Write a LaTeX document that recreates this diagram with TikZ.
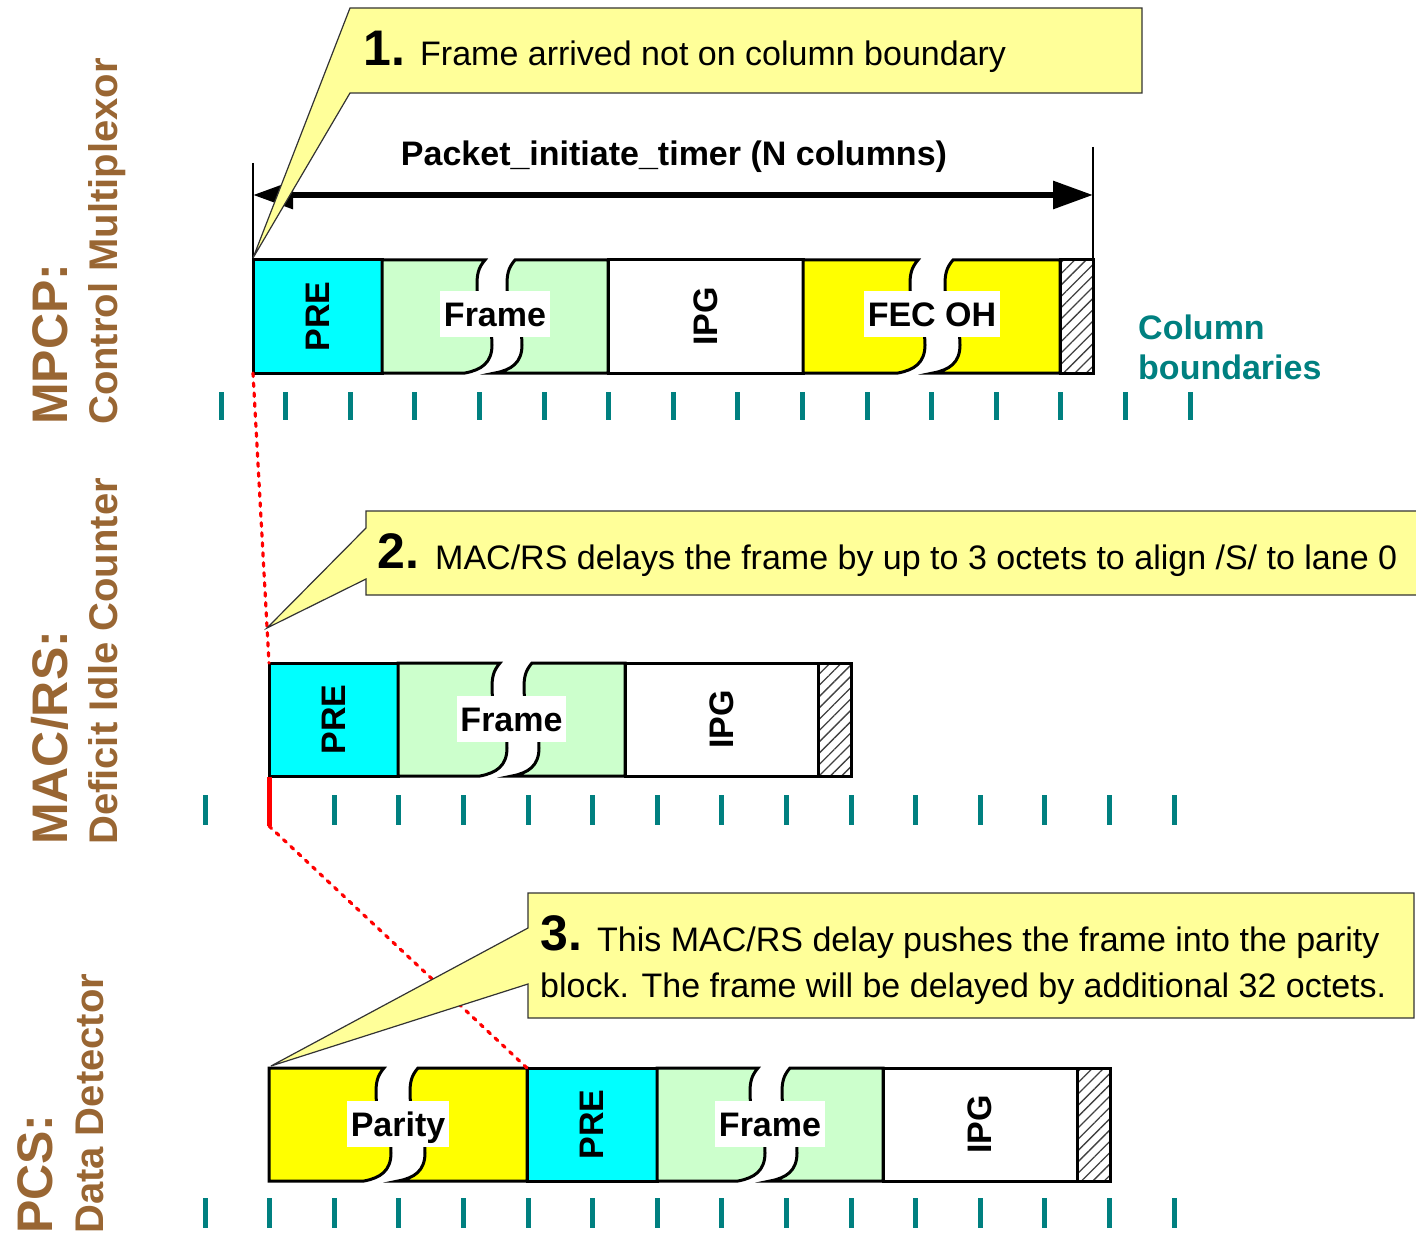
\documentclass[tikz,border=0pt]{standalone}
\usepackage{fontspec}
\setmainfont{Liberation Sans}
\usetikzlibrary{arrows.meta,patterns.meta}
\definecolor{cyanb}{HTML}{00FFFF}
\definecolor{greenb}{HTML}{CCFFCC}
\definecolor{yellowb}{HTML}{FFFF00}
\definecolor{callfill}{HTML}{FFFF99}
\definecolor{tealc}{HTML}{008080}
\definecolor{brownc}{HTML}{996633}
\definecolor{redc}{HTML}{FF0000}
% break curve, top to bottom (#1 = bulge x, #2 = top y)
\newcommand{\brkdown}[2]{-- (#1+8,#2) .. controls (#1+1,#2+8) and (#1,#2+15) .. (#1,#2+25) .. controls (#1,#2+55) and (#1+15,#2+55) .. (#1+15,#2+85) .. controls (#1+15,#2+103) and (#1+4,#2+110) .. (#1-12,#2+113)}
% same curve, bottom to top
\newcommand{\brkup}[2]{-- (#1-12,#2+113) .. controls (#1+4,#2+110) and (#1+15,#2+103) .. (#1+15,#2+85) .. controls (#1+15,#2+55) and (#1,#2+55) .. (#1,#2+25) .. controls (#1,#2+15) and (#1+1,#2+8) .. (#1+8,#2)}
\tikzset{
  blk/.style={draw=black, line width=3pt, line join=miter},
  hatchbox/.style={blk, pattern={Lines[angle=45,distance=8pt,line width=1.3pt]}, pattern color=black!75},
  lbl/.style={font=\fontsize{34}{40}\selectfont\bfseries, inner sep=0pt},
  wlbl/.style={lbl, fill=white, inner xsep=3.5pt, minimum height=46pt, text height=24.5pt, text depth=0pt},
  rlbl/.style={lbl, rotate=90},
  tick/.style={draw=tealc, line width=5pt},
  reddot/.style={draw=redc, line width=3.2pt, line cap=round, dash pattern=on 3.5pt off 6.5pt},
  call/.style={draw=black!80, line width=1.2pt, fill=callfill, line join=miter},
  ctext/.style={font=\fontsize{34}{40}\selectfont, inner sep=0pt, anchor=base west},
  cnum/.style={font=\fontsize{50}{60}\selectfont\bfseries, inner sep=0pt, anchor=base west},
  side/.style={font=\fontsize{50}{60}\selectfont\bfseries, text=brownc, inner sep=0pt, rotate=90, anchor=base west},
  sidesub/.style={font=\fontsize{40}{48}\selectfont\bfseries, text=brownc, inner sep=0pt, rotate=90, anchor=base west},
  colb/.style={font=\fontsize{34}{40}\selectfont\bfseries, text=tealc, inner sep=0pt, anchor=base west},
  dimline/.style={draw=black, line width=1.3pt},
  dimarrow/.style={draw=black, line width=6pt, {Triangle[length=40pt,width=27pt]}-{Triangle[length=40pt,width=27pt]}}
}
\begin{document}
\begin{tikzpicture}[x=1pt,y=-1pt]
\useasboundingbox (0,0) rectangle (1416,1233);
\clip (0,0) rectangle (1416,1233);

% ---------- side labels ----------
\node[side] (mpcp) at (67,425) {MPCP:};
\node[sidesub] (mpcpsub) at (117,425) {Control Multiplexor};
\node[side] (macrs) at (67,845) {MAC/RS:};
\node[sidesub] (macrssub) at (117,845) {Deficit Idle Counter};
\node[side] (pcs) at (52,1234) {PCS:};
\node[sidesub] (pcssub) at (103,1234) {Data Detector};

% ---------- row 1 ----------
\draw[blk, fill=cyanb] (253,260) rectangle (382,373);
\draw[blk, fill=greenb] (382,260) \brkdown{477}{260} -- (382,373) -- cycle;
\draw[blk, fill=greenb] (608,260) -- (608,373) \brkup{507}{260} -- cycle;
\draw[blk, fill=white] (608,260) rectangle (803,373);
\draw[blk, fill=yellowb] (803,260) \brkdown{910}{260} -- (803,373) -- cycle;
\draw[blk, fill=yellowb] (1060,260) -- (1060,373) \brkup{945}{260} -- cycle;
\draw[hatchbox] (1060,260) rectangle (1093,373);
\node[rlbl] (pre1) at (317.5,316.5) {PRE};
\node[wlbl] (frame1) at (495,314) {Frame};
\node[rlbl] (ipg1) at (705.5,316.5) {IPG};
\node[wlbl] (fec1) at (932,314) {FEC OH};
\foreach \k in {0,...,15} \draw[tick] (221+64.6*\k,392) -- (221+64.6*\k,420);
\node[colb] (colb1) at (1138,339) {Column};
\node[colb] (colb2) at (1138,379) {boundaries};

% dimension arrow
\coordinate (dimL) at (253,195);
\coordinate (dimR) at (1093,195);
\draw[dimline] (253,163) -- (253,260);
\draw[dimline] (1093,147) -- (1093,260);
\draw[dimarrow] (dimL) -- (dimR);
\node[lbl, anchor=base] (pit) at (674,166) {Packet\_initiate\_timer (N columns)};

% ---------- row 2 ----------
\draw[blk, fill=cyanb] (269,663) rectangle (398,776);
\draw[blk, fill=greenb] (398,663) \brkdown{492}{663} -- (398,776) -- cycle;
\draw[blk, fill=greenb] (625,663) -- (625,776) \brkup{524}{663} -- cycle;
\draw[blk, fill=white] (625,663) rectangle (818,776);
\draw[hatchbox] (818,663) rectangle (851,776);
\node[rlbl] (pre2) at (333.5,719.5) {PRE};
\node[wlbl] (frame2) at (511.5,719) {Frame};
\node[rlbl] (ipg2) at (721.5,719.5) {IPG};
\foreach \k in {0,2,3,...,15} \draw[tick] (205+64.6*\k,795) -- (205+64.6*\k,825);

% ---------- row 3 ----------
\draw[blk, fill=yellowb] (269,1068) \brkdown{376}{1068} -- (269,1181) -- cycle;
\draw[blk, fill=yellowb] (527,1068) -- (527,1181) \brkup{410}{1068} -- cycle;
\draw[blk, fill=cyanb] (527,1068) rectangle (657,1181);
\draw[blk, fill=greenb] (657,1068) \brkdown{750}{1068} -- (657,1181) -- cycle;
\draw[blk, fill=greenb] (883,1068) -- (883,1181) \brkup{782}{1068} -- cycle;
\draw[blk, fill=white] (883,1068) rectangle (1077,1181);
\draw[hatchbox] (1077,1068) rectangle (1110,1181);
\node[wlbl] (parity3) at (398,1124) {Parity};
\node[rlbl] (pre3) at (592,1124.5) {PRE};
\node[wlbl] (frame3) at (770,1124) {Frame};
\node[rlbl] (ipg3) at (980,1124.5) {IPG};
\foreach \k in {0,...,15} \draw[tick] (205+64.6*\k,1198) -- (205+64.6*\k,1228);

% ---------- red alignment lines ----------
\coordinate (p1) at (253,373);
\coordinate (p2) at (269,663);
\coordinate (p3) at (269,777);
\coordinate (p4) at (269,826);
\coordinate (p5) at (527,1068);
\draw[reddot] (p1) -- (p2);
\draw[draw=redc, line width=5pt] (p3) -- (p4);
\draw[reddot] (p4) -- (p5);

% ---------- callouts ----------
\draw[call] (253,258) -- (350,8) -- (1142,8) -- (1142,93) -- (350,93) -- cycle;
\node[cnum] (n1) at (363,66) {1.};
\node[ctext] (t1) at (420,66) {Frame arrived not on column boundary};

\draw[call] (267,628) -- (366,528) -- (366,511) -- (1430,511) -- (1430,595) -- (366,595) -- (366,579) -- cycle;
\node[cnum] (n2) at (377,568) {2.};
\node[ctext] (t2) at (435,569) {MAC/RS delays the frame by up to 3 octets to align /S/ to lane 0};

\draw[call] (271,1066) -- (528,928) -- (528,893) -- (1414,893) -- (1414,1018) -- (528,1018) -- (528,984) -- cycle;
\node[cnum] (n3) at (540,950) {3.};
\node[ctext] (t3a) at (597,951) {This MAC/RS delay pushes the frame into the parity};
\node[ctext] (t3b) at (540,997) {block. The frame will be delayed by additional 32 octets.};
\end{tikzpicture}
\end{document}
